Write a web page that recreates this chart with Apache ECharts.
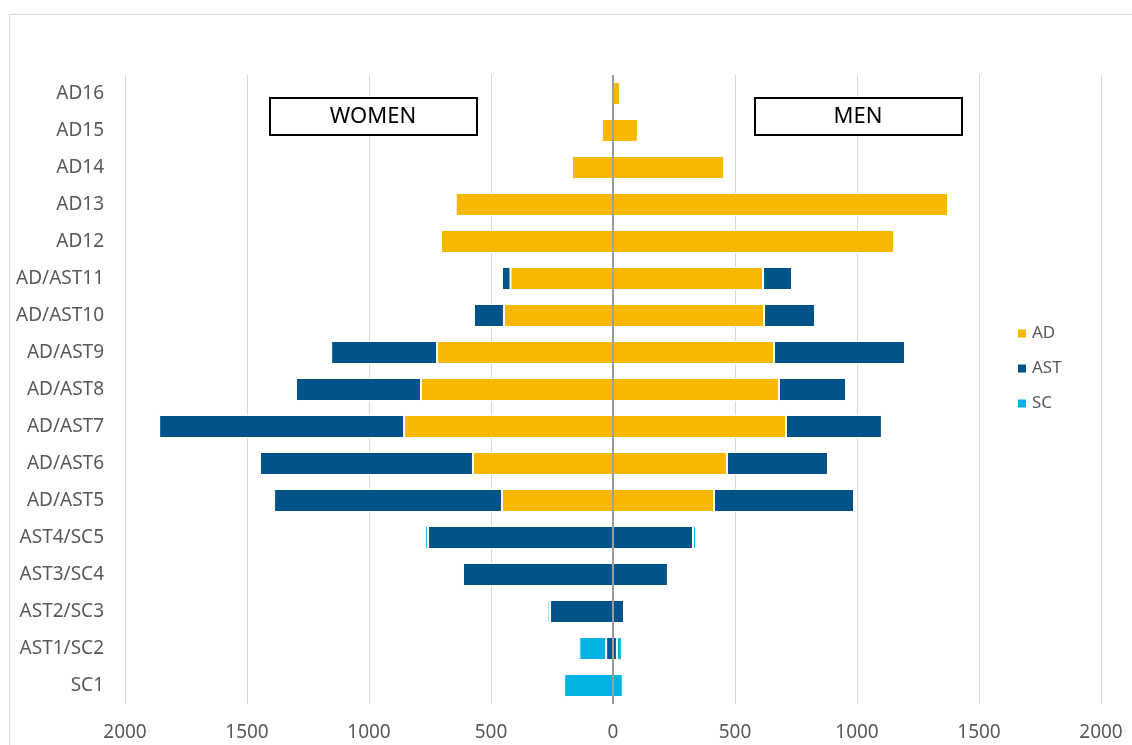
<!DOCTYPE html>
<html>
<head>
<meta charset="utf-8">
<script src="https://cdn.jsdelivr.net/npm/echarts@6/dist/echarts.min.js"></script>
<style>
  html, body { margin: 0; padding: 0; background: #fff; }
  #main { width: 1132px; height: 745px; }
</style>
</head>
<body>
<div id="main"></div>
<script>
// categories, bottom to top
var categories = ['SC1', 'AST1/SC2', 'AST2/SC3', 'AST3/SC4', 'AST4/SC5', 'AD/AST5', 'AD/AST6',
  'AD/AST7', 'AD/AST8', 'AD/AST9', 'AD/AST10', 'AD/AST11', 'AD12', 'AD13', 'AD14', 'AD15', 'AD16'];

// men (right side)
var menAD  = [0, 0, 0, 0, 0, 414, 467, 709, 680, 660, 619, 615, 1152, 1373, 455, 102, 30];
var menAST = [0, 16, 45, 225, 328, 574, 414, 393, 275, 537, 209, 119, 0, 0, 0, 0, 0];
var menSC  = [40, 20, 0, 0, 12, 0, 0, 0, 0, 0, 0, 0, 0, 0, 0, 0, 0];

// women (left side, drawn negative)
var womenAD  = [0, 0, 0, 0, 0, 455, 574, 856, 787, 721, 447, 420, 705, 645, 168, 45, 0];
var womenAST = [0, 28, 258, 615, 758, 934, 873, 1004, 512, 434, 123, 35, 0, 0, 0, 0, 0];
var womenSC  = [200, 110, 10, 0, 12, 0, 0, 0, 0, 0, 0, 0, 0, 0, 0, 0, 0];

var xTicks = [-2000, -1500, -1000, -500, 0, 500, 1000, 1500, 2000];

var colors = { AD: '#F9B800', AST: '#01538A', SC: '#00B3E3' };
var font = 'Noto Sans';

function neg(arr) {
  return arr.map(function (v) { return -v; });
}

function bar(name, data) {
  return {
    name: name,
    type: 'bar',
    stack: 'all',
    barWidth: 23,
    data: data,
    itemStyle: { color: colors[name], borderColor: '#fff', borderWidth: 1 },
    emphasis: { disabled: true }
  };
}

var series = [
  bar('AD', menAD),
  bar('AST', menAST),
  bar('SC', menSC),
  bar('AD', neg(womenAD)),
  bar('AST', neg(womenAST)),
  bar('SC', neg(womenSC))
];
// zero line
series[0].markLine = {
  silent: true,
  symbol: 'none',
  label: { show: false },
  lineStyle: { color: '#7f7f7f', width: 1.5, type: 'solid' },
  data: [{ xAxis: 0 }]
};

var myChart = echarts.init(document.getElementById('main'));
myChart.setOption({
  animation: false,
  textStyle: { fontFamily: font },
  grid: { left: 125, right: 31, top: 75, bottom: 41 },
  legend: {
    data: ['AD', 'AST', 'SC'],
    orient: 'vertical',
    left: 1011,
    top: 320,
    itemWidth: 10,
    itemHeight: 10,
    itemGap: 18,
    icon: 'rect',
    textStyle: { color: '#595959', fontSize: 17, fontFamily: font }
  },
  xAxis: {
    type: 'value',
    min: xTicks[0],
    max: xTicks[xTicks.length - 1],
    interval: 500,
    axisLine: { show: false },
    axisTick: { show: false },
    axisLabel: {
      color: '#595959',
      fontSize: 19,
      margin: 19,
      formatter: function (v) { return Math.abs(v); }
    },
    splitLine: { lineStyle: { color: '#d9d9d9', width: 1 } }
  },
  yAxis: {
    type: 'category',
    data: categories,
    axisLine: { show: false },
    axisTick: { show: false },
    axisLabel: { color: '#595959', fontSize: 19, margin: 21 }
  },
  graphic: [
    {
      type: 'rect',
      shape: { x: 9.5, y: 14.5, width: 1140, height: 800 },
      style: { fill: 'none', stroke: '#d9d9d9', lineWidth: 1 },
      silent: true
    },
    {
      type: 'rect',
      shape: { x: 270, y: 98, width: 207, height: 37 },
      style: { fill: '#fff', stroke: '#000', lineWidth: 2 },
      z: 10
    },
    {
      type: 'text',
      x: 373, y: 117,
      style: { text: 'WOMEN', fill: '#000', fontSize: 22, fontFamily: font, align: 'center', verticalAlign: 'middle' },
      z: 11
    },
    {
      type: 'rect',
      shape: { x: 755, y: 98, width: 207, height: 37 },
      style: { fill: '#fff', stroke: '#000', lineWidth: 2 },
      z: 10
    },
    {
      type: 'text',
      x: 858, y: 117,
      style: { text: 'MEN', fill: '#000', fontSize: 22, fontFamily: font, align: 'center', verticalAlign: 'middle' },
      z: 11
    }
  ],
  series: series
});
</script>
</body>
</html>
